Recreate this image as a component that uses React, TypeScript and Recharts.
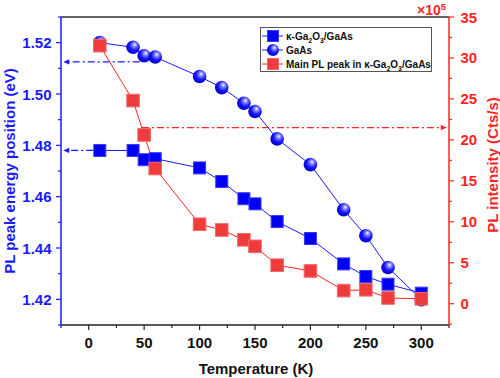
import React from 'react';
import { LineChart, Line, XAxis, YAxis, ReferenceLine } from 'recharts';

// temperatures (K) shared by all three series
const temps = [10, 40, 50, 60, 100, 120, 140, 150, 170, 200, 230, 250, 270, 300];
// peak energy of k-Ga2O3/GaAs (eV)
const kappaPeak = [1.478, 1.478, 1.4744, 1.4748, 1.4712, 1.4659, 1.4592, 1.4572, 1.4503, 1.4437, 1.4338, 1.4289, 1.4259, 1.4224];
// peak energy of GaAs (eV)
const gaasPeak = [1.52, 1.5182, 1.5149, 1.5144, 1.5068, 1.5025, 1.4964, 1.4932, 1.4825, 1.4725, 1.4549, 1.4448, 1.4324, 1.4199];
// main PL peak intensity (x10^5 Cts/s)
const mainIntensity = [31.5, 24.8, 20.6, 16.5, 9.7, 9.0, 7.8, 7.0, 4.7, 4.0, 1.6, 1.7, 0.7, 0.6];

const tempTicks = [-25, 0, 25, 50, 75, 100, 125, 150, 175, 200, 225, 250, 275, 300, 325];
const energyTicks = [1.41, 1.42, 1.43, 1.44, 1.45, 1.46, 1.47, 1.48, 1.49, 1.5, 1.51, 1.52, 1.53];
const intensityTicks = [-2.5, 0, 2.5, 5, 7.5, 10, 12.5, 15, 17.5, 20, 22.5, 25, 27.5, 30, 32.5, 35];

const data = temps.map((t, i) => ({
  t,
  kappa: kappaPeak[i],
  gaas: gaasPeak[i],
  main: mainIntensity[i],
}));

const BLUE = '#1a1aff';
const RED = '#ff2424';
const FONT = 'Arial, "Liberation Sans", sans-serif';

const LeftTick = ({ x, y, payload }: any) => {
  const major = Math.round(payload.value * 100) % 2 === 0;
  return (
    <g>
      <line x1={x} x2={x - (major ? 5 : 3)} y1={y} y2={y} stroke={BLUE} strokeWidth={1.2} />
      {major && (
        <text x={x - 9.5} y={y} textAnchor="end" dominantBaseline="central" fill={BLUE}
          style={{ fontFamily: FONT, fontSize: 15, fontWeight: 'bold' }}>
          {payload.value.toFixed(2)}
        </text>
      )}
    </g>
  );
};

const RightTick = ({ x, y, payload }: any) => {
  const major = payload.value % 5 === 0;
  return (
    <g>
      <line x1={x} x2={x + (major ? 5 : 3)} y1={y} y2={y} stroke={RED} strokeWidth={1.2} />
      {major && (
        <text x={x + 11.5} y={y} textAnchor="start" dominantBaseline="central" fill={RED}
          style={{ fontFamily: FONT, fontSize: 15, fontWeight: 'bold' }}>
          {payload.value}
        </text>
      )}
    </g>
  );
};

const BottomTick = ({ x, y, payload }: any) => {
  const major = payload.value % 50 === 0;
  return (
    <g>
      <line x1={x} x2={x} y1={y} y2={y + (major ? 5 : 3)} stroke="#222" strokeWidth={1.2} />
      {major && (
        <text x={x} y={y + 17} textAnchor="middle" dominantBaseline="central" fill="#111"
          style={{ fontFamily: FONT, fontSize: 15, fontWeight: 'bold' }}>
          {payload.value}
        </text>
      )}
    </g>
  );
};

const leftLabel = () => (
  <text x={9} y={171} transform="rotate(-90 9 171)" textAnchor="middle" dominantBaseline="central"
    fill={BLUE} style={{ fontFamily: FONT, fontSize: 15, fontWeight: 'bold' }}>
    PL peak energy position (eV)
  </text>
);

const rightLabel = () => (
  <g>
    <text x={492} y={165} transform="rotate(-90 492 165)" textAnchor="middle" dominantBaseline="central"
      fill={RED} style={{ fontFamily: FONT, fontSize: 15, fontWeight: 'bold' }}>
      PL intensity (Cts/s)
    </text>
    <text x={417} y={15} fill={RED} style={{ fontFamily: FONT, fontSize: 14, fontWeight: 'bold' }}>
      ×10<tspan dy={-5.5} style={{ fontSize: 9.5 }}>5</tspan>
    </text>
  </g>
);

const bottomLabel = () => (
  <text x={256} y={368} textAnchor="middle" dominantBaseline="central" fill="#111"
    style={{ fontFamily: FONT, fontSize: 15, fontWeight: 'bold' }}>
    Temperature (K)
  </text>
);

const dashArrow = (color: string) => (props: any) => {
  const { x1, y1, x2, y2 } = props;
  const dir = x2 > x1 ? 1 : -1;
  return (
    <g>
      <line x1={x1} y1={y1} x2={x2 - dir * 5} y2={y2} stroke={color} strokeWidth={1.3} strokeDasharray="7 3 2 3" />
      <polygon points={`${x2},${y2} ${x2 - dir * 6},${y2 - 2.6} ${x2 - dir * 6},${y2 + 2.6}`} fill={color} />
    </g>
  );
};

const SquareDot = (fill: string, stroke: string, half: number) => (props: any) => {
  const { cx, cy, index } = props;
  return (
    <rect key={index} x={cx - half} y={cy - half} width={half * 2} height={half * 2}
      fill={fill} stroke={stroke} strokeWidth={1} />
  );
};

const SphereDot = (props: any) => {
  const { cx, cy, index } = props;
  const id = `sph${index}`;
  return (
    <g key={id}>
      <defs>
        <radialGradient id={id} cx="0.6" cy="0.38" r="0.7" fx="0.62" fy="0.3">
          <stop offset="0" stopColor="#ffffff" />
          <stop offset="0.2" stopColor="#8c8cff" />
          <stop offset="0.55" stopColor="#1414ff" />
          <stop offset="1" stopColor="#0000b4" />
        </radialGradient>
      </defs>
      <circle cx={cx} cy={cy} r={6.8} fill={`url(#${id})`} />
    </g>
  );
};

const legendRow: React.CSSProperties = { display: 'flex', alignItems: 'center', height: 14 };

const Legend = () => (
  <div style={{
    position: 'absolute', left: 260, top: 27, width: 172, height: 45, boxSizing: 'border-box',
    border: '1px solid #555', background: '#fff', paddingTop: 1,
    fontFamily: FONT, fontSize: 10, fontWeight: 'bold', color: '#111',
  }}>
    <div style={legendRow}>
      <svg width={25} height={14}>
        <line x1={1} x2={22} y1={7} y2={7} stroke={BLUE} strokeWidth={1} />
        <rect x={6.5} y={1.5} width={11} height={11} fill="#0000f5" stroke="#3a3aff" />
      </svg>
      <span>κ-Ga<sub style={{ fontSize: 7, lineHeight: 0 }}>2</sub>O<sub style={{ fontSize: 7, lineHeight: 0 }}>3</sub>/GaAs</span>
    </div>
    <div style={legendRow}>
      <svg width={25} height={14}>
        <defs>
          <radialGradient id="sphLegend" cx="0.6" cy="0.38" r="0.7" fx="0.62" fy="0.3">
            <stop offset="0" stopColor="#ffffff" />
            <stop offset="0.2" stopColor="#8c8cff" />
            <stop offset="0.55" stopColor="#1414ff" />
            <stop offset="1" stopColor="#0000b4" />
          </radialGradient>
        </defs>
        <line x1={1} x2={22} y1={7} y2={7} stroke={BLUE} strokeWidth={1} />
        <circle cx={12} cy={7} r={6} fill="url(#sphLegend)" />
      </svg>
      <span>GaAs</span>
    </div>
    <div style={legendRow}>
      <svg width={25} height={14}>
        <line x1={1} x2={22} y1={7} y2={7} stroke={RED} strokeWidth={1} />
        <rect x={6.5} y={1.5} width={11} height={11} fill="#ee3b3b" stroke="#f46a6a" />
      </svg>
      <span>Main PL peak in κ-Ga<sub style={{ fontSize: 7, lineHeight: 0 }}>2</sub>O<sub style={{ fontSize: 7, lineHeight: 0 }}>3</sub>/GaAs</span>
    </div>
  </div>
);

const App = () => {
  return (
    <div style={{ position: 'absolute', left: 0, top: 0, width: 500, height: 378, background: '#fff' }}>
      <LineChart width={500} height={378} data={data} margin={{ top: 17, right: 0, left: 0, bottom: 0 }}>
        <XAxis
          dataKey="t"
          type="number"
          domain={[-25, 325]}
          ticks={tempTicks}
          interval={0}
          height={53}
          tickSize={0}
          tickMargin={0}
          tickLine={false}
          tick={<BottomTick />}
          axisLine={{ stroke: '#222', strokeWidth: 1.5 }}
          label={bottomLabel}
        />
        <YAxis
          yAxisId="left"
          orientation="left"
          type="number"
          domain={[1.41, 1.53]}
          ticks={energyTicks}
          interval={0}
          width={61}
          tickSize={0}
          tickMargin={0}
          tickLine={false}
          tick={<LeftTick />}
          axisLine={{ stroke: BLUE, strokeWidth: 1.5 }}
          label={leftLabel}
        />
        <YAxis
          yAxisId="right"
          orientation="right"
          type="number"
          domain={[-2.6, 35]}
          ticks={intensityTicks}
          interval={0}
          width={51}
          tickSize={0}
          tickMargin={0}
          tickLine={false}
          tick={<RightTick />}
          axisLine={{ stroke: RED, strokeWidth: 1.5 }}
          label={rightLabel}
        />
        <ReferenceLine yAxisId="left" y={1.53} stroke="#333" strokeWidth={1.5} />
        <ReferenceLine yAxisId="left" segment={[{ x: 46, y: 1.5125 }, { x: -23, y: 1.5125 }]} shape={dashArrow(BLUE)} />
        <ReferenceLine yAxisId="left" segment={[{ x: 4, y: 1.478 }, { x: -23, y: 1.478 }]} shape={dashArrow(BLUE)} />
        <ReferenceLine yAxisId="right" segment={[{ x: 48, y: 21.5 }, { x: 323, y: 21.5 }]} shape={dashArrow(RED)} />
        <Line
          yAxisId="left"
          dataKey="kappa"
          type="linear"
          stroke={BLUE}
          strokeWidth={1}
          dot={SquareDot('#0000f5', '#3a3aff', 6)}
          isAnimationActive={false}
        />
        <Line
          yAxisId="left"
          dataKey="gaas"
          type="linear"
          stroke={BLUE}
          strokeWidth={1}
          dot={SphereDot}
          isAnimationActive={false}
        />
        <Line
          yAxisId="right"
          dataKey="main"
          type="linear"
          stroke={RED}
          strokeWidth={1}
          dot={SquareDot('#ee3b3b', '#f46a6a', 6.3)}
          isAnimationActive={false}
        />
      </LineChart>
      <Legend />
    </div>
  );
};

export default App;
